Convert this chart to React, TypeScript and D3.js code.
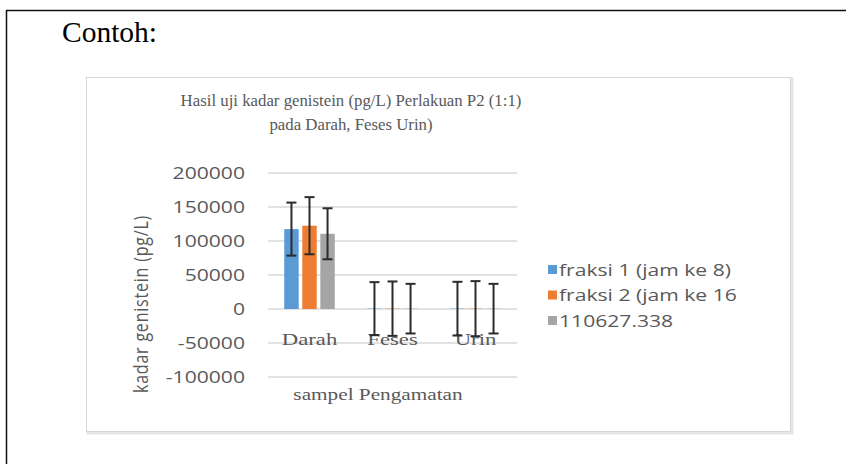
import React from "react";
import * as d3 from "d3";

const categories = ["Darah", "Feses", "Urin"];
const seriesNames = ["fraksi 1 (jam ke 8)", "fraksi 2 (jam ke 16", "110627.338"];
const seriesColors = ["#5b9bd5", "#ed7d31", "#a5a5a5"];
const fraksi1 = [117500, 500, 500];
const fraksi2 = [122500, 500, 500];
const seri3 = [110627.338, 500, 500];
const err1 = [39000, 39000, 39500];
const err2 = [42000, 40000, 40500];
const err3 = [37500, 36500, 36500];
const yTicks = [-100000, -50000, 0, 50000, 100000, 150000, 200000];

const W = 846;
const H = 464;

export default function App() {
  const values = [fraksi1, fraksi2, seri3];
  const errs = [err1, err2, err3];
  const x = d3.scaleBand<string>().domain(categories).range([268, 517]).paddingInner(0).paddingOuter(0);
  const inner = d3
    .scaleBand<number>()
    .domain([0, 1, 2])
    .range([0, x.bandwidth()])
    .paddingInner(0.2)
    .paddingOuter(0.9);
  const y = d3.scaleLinear().domain([-100000, 200000]).range([377, 173]);
  const textGray = "#595959";
  const sans = "'Open Sans', 'Noto Sans', sans-serif";
  const serif = "'Liberation Serif', serif";
  const SX = 1.28;

  return (
    <div style={{ position: "fixed", left: 0, top: 0 }}>
      <svg width={W} height={H} style={{ display: "block", background: "#fff" }}>
        <rect x={0} y={0} width={W} height={H} fill="#fff" />
        <line x1={6} y1={10.5} x2={W + 2} y2={10.5} stroke="#111" strokeWidth={1.5} />
        <line x1={6.5} y1={10} x2={6.5} y2={H} stroke="#111" strokeWidth={1.5} />
        <text x={62} y={42} fontFamily={serif} fontSize={29.5} fill="#000">
          Contoh:
        </text>
        {/* chart frame */}
        <rect x={88} y={79} width={704} height={354} fill="none" stroke="#e6e6e6" strokeWidth={3} />
        <rect x={86.5} y={77.5} width={704} height={354} fill="#fff" stroke="#d6d6d6" strokeWidth={1} />
        {/* title */}
        <text transform="translate(351,106) scale(1.05,1)" textAnchor="middle" fontFamily={serif} fontSize={16} fill={textGray}>
          Hasil uji kadar genistein (pg/L) Perlakuan P2 (1:1)
        </text>
        <text transform="translate(351,130) scale(1.05,1)" textAnchor="middle" fontFamily={serif} fontSize={16} fill={textGray}>
          pada Darah, Feses Urin)
        </text>
        {/* gridlines */}
        {yTicks.map((t) => (
          <line key={t} x1={268} x2={517} y1={y(t)} y2={y(t)} stroke="#d9d9d9" strokeWidth={1.5} />
        ))}
        {/* tick labels */}
        {yTicks.map((t) => (
          <text
            key={"l" + t}
            transform={`translate(245,${y(t)}) scale(${SX},1)`}
            dy="0.35em"
            textAnchor="end"
            fontFamily={sans}
            fontSize={16.5}
            fill={textGray}
          >
            {String(t)}
          </text>
        ))}
        {/* bars */}
        {categories.map((c, ci) =>
          values.map((vals, si) => {
            const v = vals[ci];
            const bx = (x(c) as number) + (inner(si) as number);
            const bw = inner.bandwidth();
            return (
              <rect
                key={c + si}
                x={bx}
                y={Math.min(y(v), y(0))}
                width={bw}
                height={Math.abs(y(0) - y(v))}
                fill={seriesColors[si]}
              />
            );
          })
        )}
        {/* category labels */}
        {categories.map((c) => (
          <text
            key={"c" + c}
            transform={`translate(${(x(c) as number) + x.bandwidth() / 2},345) scale(1.3,1)`}
            textAnchor="middle"
            fontFamily={serif}
            fontSize={17.5}
            fill={textGray}
          >
            {c}
          </text>
        ))}
        {/* error bars */}
        {categories.map((c, ci) =>
          values.map((vals, si) => {
            const v = vals[ci];
            const e = errs[si][ci];
            const cx = (x(c) as number) + (inner(si) as number) + inner.bandwidth() / 2;
            const top = y(v + e);
            const bot = y(v - e);
            return (
              <g key={"e" + c + si} stroke="#2b2b2b" strokeWidth={2}>
                <line x1={cx} x2={cx} y1={top} y2={bot} />
                <line x1={cx - 5} x2={cx + 5} y1={top} y2={top} />
                <line x1={cx - 5} x2={cx + 5} y1={bot} y2={bot} />
              </g>
            );
          })
        )}
        {/* axis titles */}
        <text
          transform={`translate(148,304) scale(${SX},1) rotate(-90)`}
          textAnchor="middle"
          fontFamily={sans}
          fontSize={16}
          letterSpacing={0.8}
          fill={textGray}
        >
          kadar genistein (pg/L)
        </text>
        <text transform="translate(378,400) scale(1.25,1)" textAnchor="middle" fontFamily={serif} fontSize={17} fill={textGray}>
          sampel Pengamatan
        </text>
        {/* legend */}
        {seriesNames.map((n, i) => (
          <g key={n}>
            <rect x={548} y={265 + i * 25.5} width={9} height={9} fill={seriesColors[i]} />
            <text
              transform={`translate(559,${270 + i * 25.5}) scale(1.32,1)`}
              dy="0.35em"
              fontFamily={sans}
              fontSize={16}
              fill={textGray}
            >
              {n}
            </text>
          </g>
        ))}
      </svg>
    </div>
  );
}
